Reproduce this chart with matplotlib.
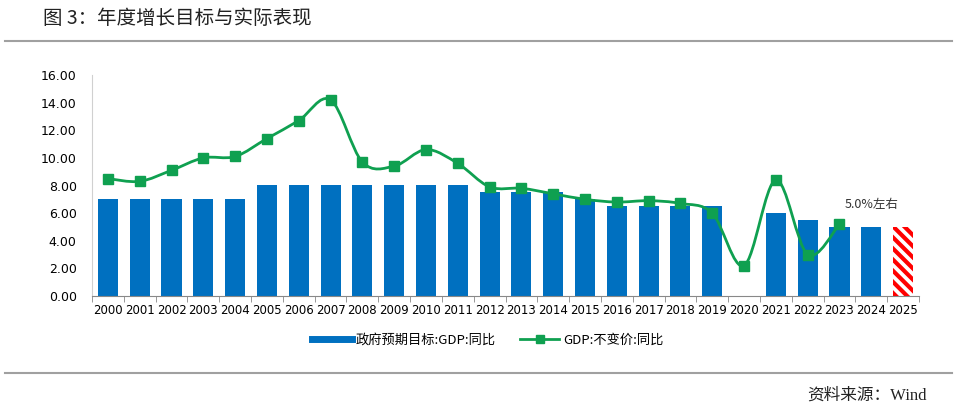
import numpy as np
import matplotlib.pyplot as plt
from matplotlib.path import Path
from matplotlib.patches import PathPatch
from matplotlib.lines import Line2D

plt.rcParams['font.family'] = ['Noto Sans CJK SC', 'DejaVu Sans']
plt.rcParams['hatch.linewidth'] = 3.0

years = [str(y) for y in range(2000, 2026)]
# government target (2020 had no target, 2025 drawn hatched)
target = [7, 7, 7, 7, 7, 8, 8, 8, 8, 8, 8, 8, 7.5, 7.5, 7.5, 7, 6.5, 6.5, 6.5, 6.5,
          np.nan, 6, 5.5, 5, 5, 5]
# actual real GDP growth
actual = [8.5, 8.3, 9.1, 10.0, 10.1, 11.4, 12.7, 14.2, 9.7, 9.4, 10.6, 9.6, 7.9, 7.8,
          7.4, 7.0, 6.8, 6.9, 6.7, 6.0, 2.2, 8.4, 3.0, 5.2, np.nan, np.nan]

blue = '#0070C0'
green = '#0FA050'
gray = '#A0A0A0'


# smooth curve through points like excel's smoothed line (bezier segments)
def smooth_path(xs, ys):
    pts = np.column_stack([xs, ys])
    verts = [pts[0]]
    codes = [Path.MOVETO]
    n = len(pts)
    for i in range(n - 1):
        p0 = pts[max(i - 1, 0)]
        p1 = pts[i]
        p2 = pts[i + 1]
        p3 = pts[min(i + 2, n - 1)]
        c1 = p1 + (p2 - p0) / 6.0
        c2 = p2 - (p3 - p1) / 6.0
        verts += [c1, c2, p2]
        codes += [Path.CURVE4] * 3
    return Path(verts, codes)


fig = plt.figure(figsize=(9.6, 4.15), dpi=100)
ax = fig.add_axes([92 / 960, 1 - 296 / 415, (919 - 92) / 960, (296 - 75) / 415])

x = np.arange(len(years))
t = np.array(target, dtype=float)
a = np.array(actual, dtype=float)

solid = x < len(years) - 1
ax.bar(x[solid], t[solid], width=0.63, color=blue, zorder=2)
ax.bar(x[-1], t[-1], width=0.63, facecolor='white', edgecolor='#FF0000',
       hatch='\\\\\\', linewidth=0, zorder=2)

ok = ~np.isnan(a)
ax.add_patch(PathPatch(smooth_path(x[ok], a[ok]), facecolor='none',
                       edgecolor=green, lw=2.0, zorder=3))
ax.plot(x[ok], a[ok], 's', color=green, markersize=7, zorder=4)

ax.text(x[-2], 6.6, '5.0%左右', ha='center', va='center', fontsize=9, color='#333333')

ax.set_xlim(-0.5, len(years) - 0.5)
ax.set_ylim(0, 16)
ax.set_yticks(np.arange(0, 17, 2))
ax.set_yticklabels(['%.2f' % v for v in np.arange(0, 17, 2)])
ax.set_xticks(x)
ax.set_xticklabels(years)
ax.set_xticks(np.arange(-0.5, len(years), 1), minor=True)
ax.tick_params(axis='x', which='major', length=0, labelsize=8.5, pad=6)
ax.tick_params(axis='x', which='minor', length=4, color='#888888')
ax.tick_params(axis='y', length=0, labelsize=9, pad=11)
for lab in ax.get_xticklabels() + ax.get_yticklabels():
    lab.set_family(['DejaVu Sans'])
ax.spines['top'].set_visible(False)
ax.spines['right'].set_visible(False)
ax.spines['left'].set_color('#D0D0D0')
ax.spines['bottom'].set_color('#888888')

handles = [Line2D([], [], color=blue, lw=5),
           Line2D([], [], color=green, lw=2, marker='s', markersize=6)]
fig.legend(handles, ['政府预期目标:GDP:同比', 'GDP:不变价:同比'], loc='center',
           bbox_to_anchor=(488 / 960, 1 - 340 / 415), ncol=2, frameon=False,
           fontsize=9.5, handlelength=3.0, columnspacing=1.8, handletextpad=0.3)

fig.text(43 / 960, 1 - 18 / 415, '图 3：年度增长目标与实际表现', fontsize=14,
         va='center', ha='left', color='#222222')
fig.add_artist(Line2D([5 / 960, 952 / 960], [1 - 41 / 415] * 2, color=gray, lw=1.5))
fig.add_artist(Line2D([5 / 960, 952 / 960], [1 - 373 / 415] * 2, color=gray, lw=1.5))
fig.text(927 / 960, 1 - 396 / 415, '资料来源：Wind', fontsize=12, ha='right',
         va='center', color='#222222', family=['Liberation Serif', 'Noto Sans CJK SC'])

fig.savefig('out.png', dpi=100)
